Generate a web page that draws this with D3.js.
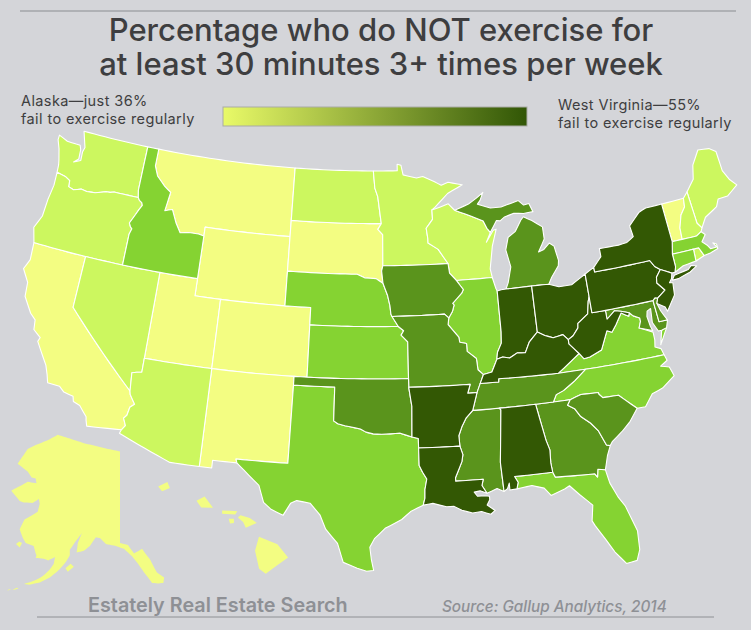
<!DOCTYPE html>
<html>
<head>
<meta charset="utf-8">
<script src="https://cdn.jsdelivr.net/npm/d3@7"></script>
<style>
  html, body { margin: 0; padding: 0; background: #d4d5d9; }
  svg { display: block; }
  text { font-family: Inter, "Open Sans", sans-serif; }
</style>
</head>
<body>
<svg id="chart" width="751" height="630"></svg>
<script>
/* Share of adults who do not exercise regularly */
const stateNames = ["AK","HI","CA","MT","WY","SD","UT","CO","NM","VT",
                    "WA","OR","NV","AZ","ND","MN","WI","ME","NH","RI",
                    "ID","NE","KS","TX","IL","VA","NC","FL","MA","CT",
                    "IA","MO","OK","MI","MS","GA","SC","TN","MD","DE",
                    "IN","OH","KY","WV","PA","NY","NJ","AR","LA","AL"];
const stateValues = [36,38,39,38,38,39,38,37,39,39,
                     41,41,42,42,41,41,42,42,41,42,
                     44,44,45,45,45,44,45,45,44,44,
                     47,48,48,47,48,47,48,48,47,47,
                     50,50,52,55,50,50,50,53,51,52];
const classBreaks = [40, 43, 46, 49];
const classColors = ["#f3fd82", "#ccf75f", "#85d332", "#5a941c", "#335804"];
const legendColors = ["#e9fa68", "#315606"];

const titleLines = ["Percentage who do NOT exercise for", "at least 30 minutes 3+ times per week"];
const lowNote = ["Alaska\u2014just 36%", "fail to exercise regularly"];
const highNote = ["West Virginia\u201455%", "fail to exercise regularly"];
const footerLeft = "Estately Real Estate Search";
const footerRight = "Source: Gallup Analytics, 2014";

/* Outlines in lon/lat, one list of rings per state */
const stateRings = {
  WA: [[[-124.7,48.38],[-123.9,48.17],[-123.1,48.15],[-122.75,48.15],[-122.6,47.9],[-122.55,47.35],[-122.9,47.1],[-122.35,47.3],[-122.4,47.8],[-122.3,48.1],[-122.5,48.5],[-122.75,49],[-117.03,49],[-117.04,46.42],[-116.92,46],[-118.98,46],[-119.3,45.93],[-119.6,45.92],[-120.5,45.7],[-121.2,45.65],[-121.7,45.7],[-122.3,45.55],[-122.75,45.65],[-122.8,46],[-123.2,46.15],[-124,46.27],[-124.05,46.7],[-124.15,47],[-124.4,47.6],[-124.7,48.1]]],
  OR: [[[-124,46.27],[-123.2,46.15],[-122.8,46],[-122.75,45.65],[-122.3,45.55],[-121.7,45.7],[-121.2,45.65],[-120.5,45.7],[-119.6,45.92],[-119.3,45.93],[-118.98,46],[-116.92,46],[-116.78,45.85],[-116.55,45.75],[-116.46,45.6],[-116.67,45.3],[-116.85,45],[-117.2,44.45],[-117.05,44.25],[-116.9,44.15],[-117.03,43.83],[-117.03,42],[-120,42],[-124.2,42],[-124.55,42.84],[-124.15,43.6],[-124.1,44.6],[-123.95,45.5]]],
  CA: [[[-124.2,42],[-120,42],[-120,39],[-114.63,35],[-114.57,34.8],[-114.14,34.3],[-114.43,34.08],[-114.53,33.6],[-114.72,33.4],[-114.5,33],[-114.72,32.72],[-117.12,32.53],[-117.25,32.85],[-117.3,33.05],[-117.9,33.6],[-118.4,33.75],[-118.5,34.03],[-119.2,34.15],[-119.6,34.42],[-120.47,34.45],[-120.65,34.9],[-120.9,35.4],[-121.9,36.6],[-121.8,36.85],[-122.4,37.2],[-122.5,37.75],[-122.95,38.05],[-123.7,38.9],[-123.8,39.7],[-124.4,40.4],[-124.1,41]]],
  NV: [[[-120,42],[-117.03,42],[-114.04,42],[-114.04,36.19],[-114.4,36.13],[-114.74,36.05],[-114.68,35.5],[-114.63,35],[-120,39]]],
  AZ: [[[-114.04,37],[-109.05,37],[-109.05,31.33],[-111.07,31.33],[-114.81,32.5],[-114.72,32.72],[-114.5,33],[-114.72,33.4],[-114.53,33.6],[-114.43,34.08],[-114.14,34.3],[-114.57,34.8],[-114.63,35],[-114.68,35.5],[-114.74,36.05],[-114.4,36.13],[-114.04,36.19]]],
  UT: [[[-114.04,42],[-111.05,42],[-111.05,41],[-109.05,41],[-109.05,37],[-114.04,37]]],
  CO: [[[-109.05,41],[-104.05,41],[-102.05,41],[-102.05,40],[-102.05,37],[-103,37],[-109.05,37]]],
  WY: [[[-111.05,45],[-104.05,45],[-104.05,43],[-104.05,41],[-111.05,41]]],
  NM: [[[-109.05,37],[-103,37],[-103,36.5],[-103.05,32],[-106.62,32],[-106.53,31.78],[-108.2,31.78],[-108.2,31.33],[-109.05,31.33]]],
  ID: [[[-117.03,49],[-116.05,49],[-116.05,48],[-115.7,47.45],[-114.95,46.95],[-114.35,46.65],[-114.55,45.55],[-113.95,45.7],[-113.45,44.95],[-113,44.45],[-112.3,44.55],[-111.5,44.55],[-111.05,44.48],[-111.05,42],[-114.04,42],[-117.03,42],[-117.03,43.83],[-116.9,44.15],[-117.05,44.25],[-117.2,44.45],[-116.85,45],[-116.67,45.3],[-116.46,45.6],[-116.55,45.75],[-116.78,45.85],[-116.92,46],[-117.04,46.42]]],
  MT: [[[-116.05,49],[-104.05,49],[-104.05,45.94],[-104.05,45],[-111.05,45],[-111.05,44.48],[-111.5,44.55],[-112.3,44.55],[-113,44.45],[-113.45,44.95],[-113.95,45.7],[-114.55,45.55],[-114.35,46.65],[-114.95,46.95],[-115.7,47.45],[-116.05,48]]],
  ND: [[[-104.05,49],[-97.23,49],[-97.1,48],[-96.85,47.5],[-96.56,45.93],[-104.05,45.94]]],
  SD: [[[-104.05,45.94],[-96.56,45.93],[-96.85,45.6],[-96.45,45.3],[-96.45,43.5],[-96.55,43.2],[-96.45,42.49],[-97,42.76],[-97.9,42.8],[-98.5,43],[-104.05,43]]],
  NE: [[[-104.05,43],[-98.5,43],[-97.9,42.8],[-97,42.76],[-96.45,42.49],[-96.1,41.8],[-95.92,41.2],[-95.85,40.7],[-95.77,40.58],[-95.3,40],[-102.05,40],[-102.05,41],[-104.05,41]]],
  KS: [[[-102.05,40],[-95.3,40],[-94.9,39.75],[-95.1,39.5],[-94.61,39.11],[-94.62,37],[-102.05,37]]],
  OK: [[[-103,37],[-94.62,37],[-94.62,36.5],[-94.43,35.4],[-94.48,33.64],[-95.3,33.88],[-96,33.85],[-96.6,33.83],[-97.2,33.85],[-97.7,33.95],[-98.1,34.13],[-99.2,34.3],[-99.7,34.4],[-100,34.56],[-100,36.5],[-103,36.5]]],
  TX: [[[-103,36.5],[-100,36.5],[-100,34.56],[-99.7,34.4],[-99.2,34.3],[-98.1,34.13],[-97.7,33.95],[-97.2,33.85],[-96.6,33.83],[-96,33.85],[-95.3,33.88],[-94.48,33.64],[-94.04,33.55],[-94.04,33],[-94.04,31.99],[-93.82,31.6],[-93.55,31.2],[-93.7,30.6],[-93.72,30.1],[-93.85,29.7],[-94.7,29.35],[-95.3,28.9],[-96.4,28.4],[-97.1,27.8],[-97.4,27.3],[-97.3,26.6],[-97.15,25.95],[-97.6,25.9],[-98.2,26.07],[-99.1,26.4],[-99.5,27.5],[-100.3,28.3],[-100.7,29.1],[-101.4,29.77],[-102.3,29.88],[-102.7,29.7],[-103.15,28.98],[-104,29.3],[-104.5,29.65],[-104.9,30.6],[-106,31.4],[-106.53,31.78],[-106.62,32],[-103.05,32]]],
  MN: [[[-97.23,49],[-95.15,49],[-95.15,49.38],[-94.82,49.32],[-94.65,48.75],[-93.5,48.55],[-92.95,48.62],[-92,48.3],[-91.4,48.05],[-90.8,48.2],[-89.6,48],[-90.9,47.55],[-92.1,46.75],[-92.3,46.65],[-92.29,46.1],[-92.85,45.6],[-92.75,45],[-92.75,44.75],[-91.95,44.35],[-91.22,43.5],[-96.45,43.5],[-96.45,45.3],[-96.85,45.6],[-96.56,45.93],[-96.85,47.5],[-97.1,48]]],
  IA: [[[-96.45,43.5],[-91.22,43.5],[-91.15,42.95],[-90.65,42.5],[-90.15,41.95],[-90.3,41.75],[-91.05,41.2],[-90.95,41.1],[-91.1,40.75],[-91.42,40.38],[-91.73,40.61],[-95.77,40.58],[-95.85,40.7],[-95.92,41.2],[-96.1,41.8],[-96.45,42.49],[-96.55,43.2]]],
  MO: [[[-95.77,40.58],[-91.73,40.61],[-91.42,40.38],[-91.5,40],[-90.75,39.25],[-90.7,38.95],[-90.2,38.85],[-90.2,38.4],[-89.55,37.95],[-89.5,37.3],[-89.13,37],[-89.42,36.5],[-89.7,36],[-90.37,36],[-90.15,36.5],[-94.62,36.5],[-94.62,37],[-94.61,39.11],[-95.1,39.5],[-94.9,39.75],[-95.3,40]]],
  AR: [[[-94.62,36.5],[-90.15,36.5],[-90.37,36],[-89.7,36],[-89.9,35.5],[-90.1,35],[-90.6,34.6],[-90.95,34.1],[-91.2,33.6],[-91.17,33],[-94.04,33],[-94.04,33.55],[-94.48,33.64],[-94.43,35.4]]],
  LA: [[[-94.04,33],[-91.17,33],[-91,32.5],[-91.1,32.1],[-91.6,31.2],[-91.6,31],[-89.73,31],[-89.85,30.65],[-89.55,30.18],[-90,30.35],[-90.4,30.3],[-90.2,30.05],[-89.7,30.05],[-89.4,30],[-89.4,29.8],[-89.6,29.5],[-89.1,29.15],[-89.4,28.95],[-90,29.15],[-90.6,29.1],[-91.3,29.3],[-91.8,29.55],[-92.3,29.55],[-93.2,29.78],[-93.85,29.7],[-93.72,30.1],[-93.7,30.6],[-93.55,31.2],[-93.82,31.6],[-94.04,31.99]]],
  MS: [[[-90.1,35],[-88.2,35],[-88.1,34.9],[-88.47,31.9],[-88.4,30.2],[-88.85,30.4],[-89.55,30.18],[-89.85,30.65],[-89.73,31],[-91.6,31],[-91.6,31.2],[-91.1,32.1],[-91,32.5],[-91.17,33],[-91.2,33.6],[-90.95,34.1],[-90.6,34.6]]],
  AL: [[[-88.2,35],[-85.6,35],[-85.18,32.87],[-85,32.3],[-85.05,31.55],[-85,31],[-87.6,31],[-87.4,30.65],[-87.52,30.28],[-88,30.25],[-88,30.65],[-88.15,30.35],[-88.4,30.2],[-88.47,31.9],[-88.1,34.9]]],
  GA: [[[-85.6,35],[-84.32,35],[-83.11,35],[-83.35,34.7],[-82.9,34.45],[-82.55,33.95],[-81.95,33.5],[-81.5,33],[-81.1,32.1],[-80.85,32.03],[-81.15,31.5],[-81.45,30.7],[-81.95,30.8],[-82.05,30.36],[-82.2,30.57],[-84.86,30.7],[-85,31],[-85.05,31.55],[-85,32.3],[-85.18,32.87]]],
  FL: [[[-87.6,31],[-85,31],[-84.86,30.7],[-82.2,30.57],[-82.05,30.36],[-81.95,30.8],[-81.45,30.7],[-81.3,29.9],[-80.9,29],[-80.55,28.45],[-80.05,26.9],[-80.12,25.8],[-80.4,25.2],[-81.1,25.13],[-81.7,25.9],[-82.15,26.7],[-82.7,27.6],[-82.85,27.9],[-82.65,28.8],[-83.4,29.5],[-84,30.1],[-84.35,29.95],[-85.3,29.68],[-85.7,30.15],[-86.5,30.38],[-87.52,30.28],[-87.4,30.65]]],
  SC: [[[-83.11,35],[-82.3,35.2],[-81.05,35.15],[-81.03,35.05],[-80.8,34.82],[-79.67,34.8],[-78.55,33.86],[-79.2,33.2],[-79.9,32.7],[-80.65,32.25],[-80.85,32.03],[-81.1,32.1],[-81.5,33],[-81.95,33.5],[-82.55,33.95],[-82.9,34.45],[-83.35,34.7]]],
  NC: [[[-84.32,35],[-84.05,35.4],[-83.5,35.57],[-82.6,36.03],[-81.7,36.59],[-75.87,36.55],[-75.75,36.2],[-76.3,35.95],[-75.7,35.8],[-75.5,35.25],[-76.5,34.7],[-77.3,34.5],[-77.95,33.85],[-78.55,33.86],[-79.67,34.8],[-80.8,34.82],[-81.03,35.05],[-81.05,35.15],[-82.3,35.2],[-83.11,35]]],
  TN: [[[-90.1,35],[-89.9,35.5],[-89.7,36],[-89.42,36.5],[-88.07,36.5],[-88.05,36.68],[-83.68,36.6],[-81.7,36.59],[-82.6,36.03],[-83.5,35.57],[-84.05,35.4],[-84.32,35],[-85.6,35],[-88.2,35]]],
  KY: [[[-89.42,36.5],[-89.13,37],[-88.5,37.1],[-88.05,37.8],[-87.6,37.9],[-87.1,37.8],[-86.5,38.05],[-85.9,38],[-85.5,38.6],[-84.82,39.1],[-84.3,38.85],[-83.7,38.65],[-82.95,38.75],[-82.6,38.42],[-82.6,38.17],[-81.97,37.54],[-83.68,36.6],[-88.05,36.68],[-88.07,36.5]]],
  WI: [[[-92.3,46.65],[-92,46.7],[-90.9,46.95],[-90.4,46.55],[-89.1,46.15],[-88.1,45.8],[-87.85,45.35],[-87.6,45.1],[-88,44.55],[-87.35,45.2],[-87.1,45.25],[-87.55,44.3],[-87.9,43],[-87.8,42.5],[-90.65,42.5],[-91.15,42.95],[-91.22,43.5],[-91.95,44.35],[-92.75,44.75],[-92.75,45],[-92.85,45.6],[-92.29,46.1]]],
  IL: [[[-90.65,42.5],[-87.8,42.5],[-87.6,41.85],[-87.52,41.7],[-87.53,39.35],[-87.6,38.7],[-87.95,38.2],[-88.05,37.8],[-88.5,37.1],[-89.13,37],[-89.5,37.3],[-89.55,37.95],[-90.2,38.4],[-90.2,38.85],[-90.7,38.95],[-90.75,39.25],[-91.5,40],[-91.42,40.38],[-91.1,40.75],[-90.95,41.1],[-91.05,41.2],[-90.3,41.75],[-90.15,41.95]]],
  IN: [[[-87.52,41.7],[-87.2,41.75],[-86.82,41.76],[-84.8,41.76],[-84.82,39.1],[-85.5,38.6],[-85.9,38],[-86.5,38.05],[-87.1,37.8],[-87.6,37.9],[-88.05,37.8],[-87.95,38.2],[-87.6,38.7],[-87.53,39.35]]],
  OH: [[[-84.8,41.76],[-83.45,41.73],[-82.7,41.5],[-81.7,41.5],[-80.52,41.98],[-80.52,40.64],[-80.65,40.4],[-80.85,39.7],[-81.7,39.25],[-81.75,39],[-82.2,38.6],[-82.6,38.42],[-82.95,38.75],[-83.7,38.65],[-84.3,38.85],[-84.82,39.1]]],
  MI: [[[-86.82,41.76],[-84.8,41.76],[-83.45,41.73],[-83.15,42.1],[-82.5,42.7],[-82.42,43],[-82.6,43.85],[-82.95,44.07],[-83.45,43.75],[-83.9,43.65],[-83.55,44.05],[-83.3,44.35],[-83.3,45.05],[-84.1,45.5],[-84.75,45.78],[-85,45.6],[-85.55,45],[-86.2,44.7],[-86.5,44],[-86.25,43],[-86.6,42.1]],
       [[-90.4,46.55],[-89.2,46.85],[-88.5,47.15],[-87.9,47.45],[-88.2,47],[-88.45,46.8],[-87.4,46.5],[-86.5,46.5],[-85,46.75],[-84.6,46.45],[-84.15,46.5],[-83.9,46],[-84.7,45.97],[-85.5,46.05],[-86.3,45.9],[-86.7,45.7],[-87,45.75],[-87.6,45.1],[-87.85,45.35],[-88.1,45.8],[-89.1,46.15]]],
  PA: [[[-80.52,41.98],[-79.76,42.27],[-79.76,42],[-75.35,42],[-75.07,41.6],[-74.7,41.36],[-75.13,40.97],[-75.2,40.65],[-74.72,40.15],[-75.4,39.8],[-75.6,39.84],[-75.79,39.72],[-79.48,39.72],[-80.52,39.72],[-80.52,40.64]]],
  NY: [[[-79.76,42.27],[-79.76,42],[-75.35,42],[-75.07,41.6],[-74.7,41.36],[-73.9,41],[-73.65,41],[-73.5,41.3],[-73.5,42.05],[-73.27,42.75],[-73.35,45],[-74.7,45],[-75.3,44.85],[-76.3,44.2],[-76.2,43.55],[-76.8,43.3],[-77.5,43.25],[-79.05,43.27],[-79.05,42.8]],
       [[-74,40.6],[-73.75,40.85],[-72.6,40.97],[-72.3,41.15],[-71.9,41.05],[-72.5,40.8],[-73.5,40.6]]],
  NJ: [[[-74.7,41.36],[-73.9,41],[-74.02,40.7],[-74.25,40.5],[-74,40.45],[-74.1,39.75],[-74.9,38.93],[-75,39.2],[-75.55,39.5],[-75.4,39.8],[-74.72,40.15],[-75.2,40.65],[-75.13,40.97]]],
  CT: [[[-73.5,42.05],[-71.8,42.02],[-71.85,41.32],[-72.9,41.25],[-73.65,41],[-73.5,41.3]]],
  RI: [[[-71.8,42.02],[-71.38,42.02],[-71.12,41.5],[-71.85,41.32]]],
  MA: [[[-73.5,42.05],[-73.27,42.75],[-72.46,42.73],[-71.3,42.7],[-70.85,42.87],[-70.6,42.65],[-71,42.3],[-70.65,42],[-70.5,41.78],[-70,41.78],[-70.2,42.07],[-69.95,41.95],[-69.95,41.67],[-70.6,41.55],[-71.12,41.5],[-71.38,42.02],[-71.8,42.02]]],
  VT: [[[-73.35,45],[-71.5,45],[-71.6,44.5],[-72.05,44.1],[-72.4,43.4],[-72.46,42.73],[-73.27,42.75]]],
  NH: [[[-71.5,45],[-71.08,45.3],[-70.98,43.4],[-70.7,43.07],[-70.85,42.87],[-71.3,42.7],[-72.46,42.73],[-72.4,43.4],[-72.05,44.1],[-71.6,44.5]]],
  ME: [[[-71.08,45.3],[-70.3,45.9],[-70,46.7],[-69.23,47.46],[-68.3,47.35],[-67.8,47.07],[-67.78,45.9],[-67.45,45.3],[-67,44.85],[-68,44.4],[-68.8,44.4],[-69.1,44],[-70.2,43.6],[-70.7,43.07],[-70.98,43.4]]],
  MD: [[[-79.48,39.72],[-75.79,39.72],[-75.7,38.46],[-75.05,38.45],[-75.25,38.03],[-75.65,37.95],[-75.9,37.95],[-76.2,38.5],[-76.1,39.3],[-76.4,39.2],[-76.5,38.9],[-76.4,38.3],[-76.3,38.05],[-77.25,38.35],[-77.05,38.7],[-77.05,38.9],[-77.5,39.1],[-77.75,39.32],[-78.35,39.5],[-78.8,39.6],[-79.48,39.2]]],
  DE: [[[-75.79,39.72],[-75.6,39.84],[-75.4,39.8],[-75.55,39.5],[-75.4,39.05],[-75.05,38.45],[-75.7,38.46]]],
  VA: [[[-83.68,36.6],[-81.97,37.54],[-81.68,37.2],[-81.23,37.24],[-80.3,37.52],[-80,38],[-79.65,38.55],[-79.3,38.42],[-78.9,38.8],[-78.35,39.4],[-77.83,39.13],[-77.75,39.32],[-77.5,39.1],[-77.05,38.9],[-77.05,38.7],[-77.25,38.35],[-76.3,37.95],[-76.3,37.5],[-76.4,37.1],[-76,36.93],[-75.87,36.55],[-81.7,36.59]],
       [[-75.65,37.95],[-75.25,38.03],[-75.95,37.15]]],
  WV: [[[-80.52,40.64],[-80.52,39.72],[-79.48,39.72],[-79.48,39.2],[-78.8,39.6],[-78.35,39.5],[-77.75,39.32],[-77.83,39.13],[-78.35,39.4],[-78.9,38.8],[-79.3,38.42],[-79.65,38.55],[-80,38],[-80.3,37.52],[-81.23,37.24],[-81.68,37.2],[-81.97,37.54],[-82.6,38.17],[-82.6,38.42],[-82.2,38.6],[-81.75,39],[-81.7,39.25],[-80.85,39.7],[-80.65,40.4]]],
  AK: [[[-141,69.65],[-145,70],[-150,70.5],[-153,70.9],[-156.5,71.35],[-159,70.8],[-162,70.3],[-164,69.9],[-166.5,68.4],[-164,67.6],[-163,67],[-162,66.9],[-161.8,66.4],[-164,66.55],[-166,66.1],[-168.1,65.65],[-166,64.6],[-165,64.45],[-162.8,64.4],[-161.2,64.8],[-161,64.3],[-161.5,63.5],[-163,63.1],[-164.8,62.7],[-166,61.7],[-165.2,60.8],[-164.5,60.3],[-162.5,60],[-162,59.2],[-161.8,59],[-162,58.7],[-160,58.6],[-158.9,58.4],[-157.2,58.8],[-157.5,58],[-158.5,57.2],[-160.5,56.1],[-162.5,55.4],[-164.9,54.8],[-163.5,54.65],[-161,55.1],[-158.5,56],[-156.5,57],[-154.5,58.2],[-153.5,59],[-153.5,59.6],[-152,60.5],[-150.5,61.3],[-151.5,60.3],[-151.8,59.3],[-150,59.5],[-148.5,60],[-147,60.9],[-146,60.8],[-144.5,60.2],[-142,60],[-140,59.7],[-138,58.9],[-136.5,58],[-135,56.8],[-134,56],[-133,55],[-131.5,54.9],[-130.2,55],[-130,56],[-131.8,56.8],[-133.5,58.5],[-135.5,59.7],[-137.5,59.2],[-139,60.1],[-141,60.3]],
       [[-152.5,57.6],[-153.3,58],[-154.6,57.4],[-154,56.9]],
       [[-166.9,60.2],[-166.1,60.45],[-165.4,60.3],[-166,59.85]],
       [[-167.5,53.3],[-166.3,53.8],[-166.6,53.95],[-167.6,53.5]],
       [[-169,53.2],[-168.2,53.4],[-168.4,53.55],[-169,53.35]]],
  HI: [[[-159.75,22.05],[-159.4,22.22],[-159.3,22],[-159.6,21.88]],
       [[-158.28,21.55],[-157.97,21.7],[-157.65,21.3],[-158.1,21.3]],
       [[-157.3,21.2],[-156.72,21.17],[-156.8,21.05],[-157.3,21.08]],
       [[-157.05,20.9],[-156.85,20.9],[-156.85,20.75],[-157,20.73]],
       [[-156.7,20.95],[-156.6,21.03],[-156.25,20.93],[-155.98,20.75],[-156.4,20.58],[-156.5,20.78]],
       [[-155.9,20.25],[-155.2,19.98],[-154.8,19.5],[-155.65,18.92],[-155.9,19.1],[-156.05,19.75]]]
};

const svg = d3.select("#chart");
const width = 751, height = 630;

const colorScale = d3.scaleThreshold().domain(classBreaks).range(classColors);

/* One projection per block of the map */
const lower48 = d3.geoAlbers().rotate([97, 0]).center([0, 37]).parallels([29.5, 45.5])
    .scale(990).translate([376, 379]);

/* The Alaska inset keeps its meridians upright and squeezes the south a little */
const lat60 = 60 * Math.PI / 180;
function alaskaRaw(lambda, phi){
    let squeeze = phi < lat60 ? 2.8 * (lat60 - phi) * (lat60 - phi) : 0;
    return [lambda * 0.41, phi + squeeze];
}
const alaska = d3.geoProjection(alaskaRaw).rotate([141, 0]).center([0, 65])
    .scale(561).translate([120, 497]);

const hawaii = d3.geoAlbers().rotate([157, 0]).center([0, 21]).parallels([8, 18])
    .scale(1600).translate([230, 516]);

/* Long straight edges follow the parallels, so add points along them */
function densify(ring){
    let out = [];
    let closed = ring.concat([ring[0]]);
    for(let i=0; i<closed.length-1; i++){
        let a = closed[i], b = closed[i+1];
        let steps = Math.ceil(Math.max(Math.abs(b[0]-a[0]), Math.abs(b[1]-a[1])) / 0.5) || 1;
        for(let s=0; s<steps; s++){
            out.push([a[0] + (b[0]-a[0])*s/steps, a[1] + (b[1]-a[1])*s/steps]);
        }
    }
    out.push(out[0]);
    return out;
}

function toFeature(name){
    let polygons = stateRings[name].map(function(ring){
        let dense = densify(ring);
        /* d3 reads winding as inside/outside, flip anything that covers the globe */
        if(d3.geoArea({type: "Polygon", coordinates: [dense]}) > 2 * Math.PI) dense.reverse();
        return [dense];
    });
    return {type: "Feature", properties: {name: name}, geometry: {type: "MultiPolygon", coordinates: polygons}};
}

const states = stateNames.map(function(name, i){
    let f = toFeature(name);
    f.properties.value = stateValues[i];
    return f;
});

function pathFor(d){
    let name = d.properties.name;
    let projection = name === "AK" ? alaska : name === "HI" ? hawaii : lower48;
    return d3.geoPath(projection)(d);
}

/* Rules */
svg.append("line").attr("x1", 20).attr("x2", 736).attr("y1", 11).attr("y2", 11)
    .attr("stroke", "#a3a5a9").attr("stroke-width", 1.5);
svg.append("line").attr("x1", 37).attr("x2", 714).attr("y1", 617).attr("y2", 617)
    .attr("stroke", "#8e9094").attr("stroke-width", 1);

/* Title */
svg.selectAll(".title").data(titleLines).enter().append("text")
    .attr("class", "title")
    .attr("x", 381)
    .attr("y", (d, i) => 41 + i * 34)
    .attr("text-anchor", "middle")
    .attr("font-size", 31)
    .attr("font-weight", 500)
    .attr("fill", "#3e3e40")
    .text(d => d);

/* Legend */
const gradient = svg.append("defs").append("linearGradient").attr("id", "legendRamp");
gradient.selectAll("stop").data(legendColors).enter().append("stop")
    .attr("offset", (d, i) => i * 100 + "%")
    .attr("stop-color", d => d);
svg.append("rect").attr("x", 223).attr("y", 107).attr("width", 304).attr("height", 19)
    .attr("fill", "url(#legendRamp)").attr("stroke", "#a9aba6").attr("stroke-width", 1);

svg.selectAll(".low-note").data(lowNote).enter().append("text")
    .attr("class", "low-note")
    .attr("x", 21).attr("y", (d, i) => 106 + i * 18)
    .attr("font-size", 14.5).attr("letter-spacing", 0.4).attr("fill", "#3e3e40").text(d => d);
svg.selectAll(".high-note").data(highNote).enter().append("text")
    .attr("class", "high-note")
    .attr("x", 558).attr("y", (d, i) => 110 + i * 18)
    .attr("font-size", 14.5).attr("letter-spacing", 0.4).attr("fill", "#3e3e40").text(d => d);

/* Map */
svg.append("g").selectAll("path").data(states).enter().append("path")
    .attr("d", pathFor)
    .attr("fill", d => colorScale(d.properties.value))
    .attr("stroke", d => (d.properties.name === "AK" || d.properties.name === "HI") ? "none" : "#fff")
    .attr("stroke-width", 1.1)
    .attr("stroke-linejoin", "round");

/* Footer */
svg.append("text").attr("x", 88).attr("y", 612)
    .attr("font-size", 19.8).attr("font-weight", 600).attr("fill", "#8e9095").text(footerLeft);
svg.append("text").attr("x", 442).attr("y", 612)
    .attr("font-size", 15.3).attr("font-style", "italic").attr("font-weight", 500).attr("fill", "#8e9095").text(footerRight);
</script>
</body>
</html>
